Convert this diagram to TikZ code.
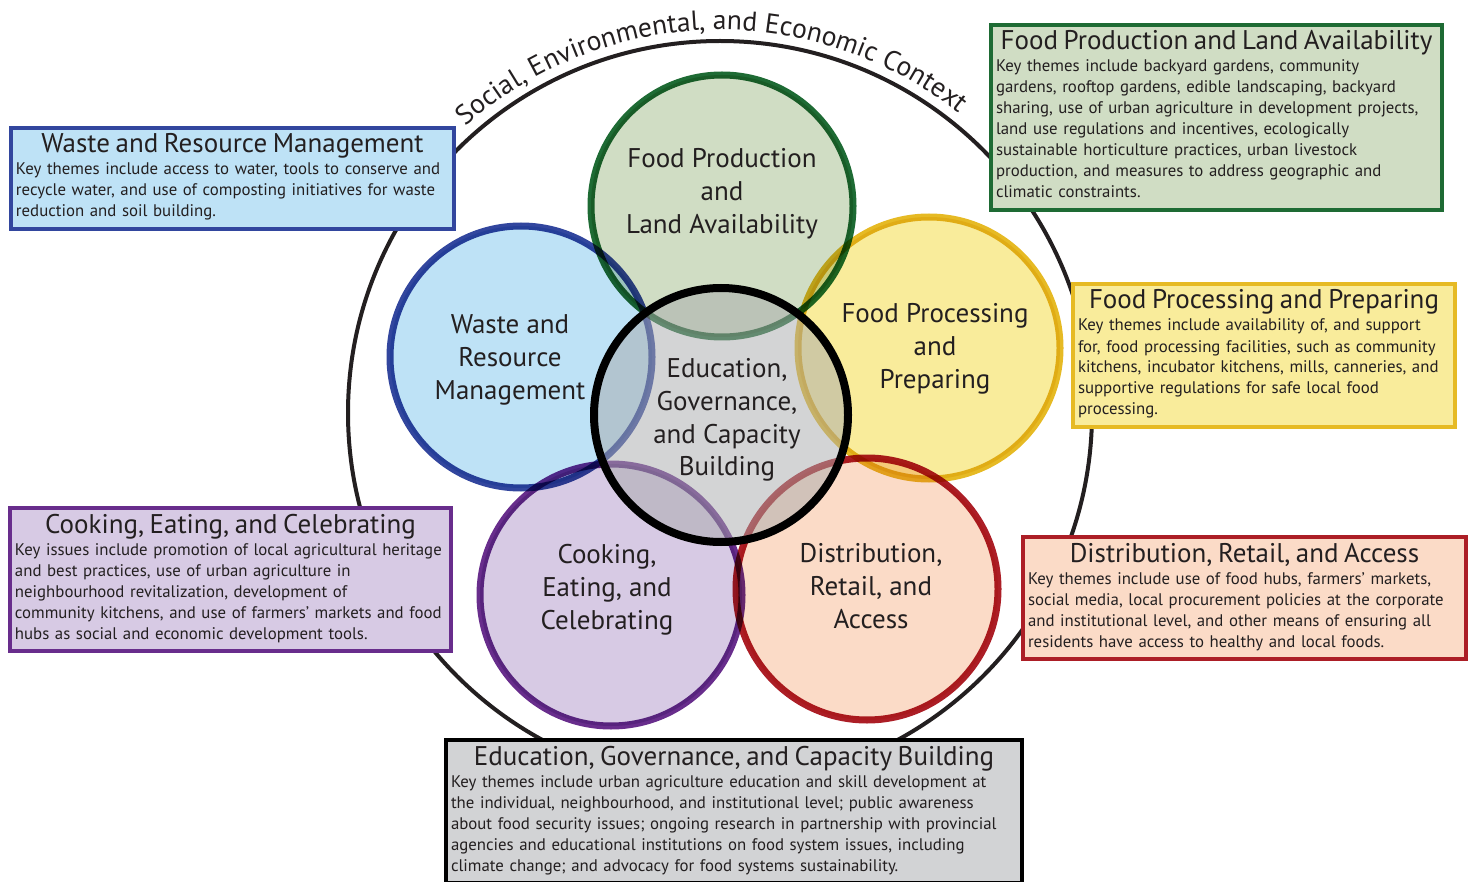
\documentclass[tikz,border=0pt]{standalone}
\usepackage{fontspec}
\setmainfont{PT Sans}
\usepackage{xcolor}
\usetikzlibrary{positioning,decorations.text}

\definecolor{prodline}{RGB}{30,107,52}
\definecolor{prodfill}{RGB}{208,221,196}
\definecolor{wasteline}{RGB}{50,70,158}
\definecolor{wastefill}{RGB}{190,226,246}
\definecolor{procline}{RGB}{230,186,36}
\definecolor{procfill}{RGB}{249,236,155}
\definecolor{distline}{RGB}{172,30,38}
\definecolor{distfill}{RGB}{251,219,199}
\definecolor{cookline}{RGB}{104,45,140}
\definecolor{cookfill}{RGB}{215,202,228}
\definecolor{edufill}{RGB}{210,211,213}
\definecolor{edushade}{RGB}{168,170,172}
\definecolor{inkgray}{RGB}{35,31,32}

\newcommand{\boxhead}[1]{{\centering\fontsize{13.5}{15}\selectfont\rule{0pt}{10pt}#1\par}\vspace{0.5pt}}
\newcommand{\boxend}{\rule[-3.5pt]{0pt}{0pt}}

\begin{document}
\begin{tikzpicture}[
      x=0.5pt,y=0.5pt,
      topic/.style={
         circle,
         line width=3.5pt,
         minimum size=131pt,
         inner sep=0pt},
      topiclabel/.style={
         align=center,
         text=inkgray,
         font=\fontsize{13.5}{16.4}\selectfont},
      infobox/.style={
         rectangle,
         anchor=north west,
         line width=2pt,
         inner xsep=2.5pt,
         inner ysep=2.5pt,
         align=left,
         text=inkgray,
         font=\fontsize{8.4}{10.5}\selectfont}
      ]
\useasboundingbox (0,0) rectangle (1468,-882);

% context ring
\draw[line width=2pt, inkgray] (720,-413) circle[radius=372];
\path[decorate, decoration={text along path, text align=center, text color=inkgray,
      text={|\fontsize{13.8}{14}\selectfont|Social, Environmental, and Economic Context}}]
   (720,-413) ++(161.5:383) arc[start angle=161.5, end angle=21.5, radius=383];

% topic circles
\begin{scope}[blend mode=multiply]
\node[topic, draw=wasteline, fill=wastefill] (wasteCircle) at (521,-357) {};
\node[topic, draw=prodline,  fill=prodfill ] (prodCircle)  at (722,-206) {};
\node[topic, draw=procline,  fill=procfill ] (procCircle)  at (929,-348) {};
\node[topic, draw=distline,  fill=distfill ] (distCircle)  at (867,-589) {};
\node[topic, draw=cookline,  fill=cookfill ] (cookCircle)  at (611,-595) {};
\end{scope}
\node[topic, minimum size=127pt, line width=4pt, draw=black,
      fill=edushade, fill opacity=0.5] (eduCircle) at (721,-415) {};

\node[topiclabel] (prodLabel)  at (722,-194) {Food Production\\and\\Land Availability};
\node[topiclabel] (wasteLabel) at (510,-360) {Waste and\\Resource\\Management};
\node[topiclabel] (procLabel)  at (935,-349) {Food Processing\\and\\Preparing};
\node[topiclabel] (eduLabel)   at (727,-420) {Education,\\Governance,\\and Capacity\\Building};
\node[topiclabel] (cookLabel)  at (607,-590) {Cooking,\\Eating, and\\Celebrating};
\node[topiclabel] (distLabel)  at (871,-586) {Distribution,\\Retail, and\\Access};

% theme boxes
\node[infobox, draw=wasteline, fill=wastefill, text width=216.5pt] (wasteBox) at (9,-126)
   {\boxhead{Waste and Resource Management}%
    Key themes include access to water, tools to conserve and\\
    recycle water, and use of composting initiatives for waste\\
    reduction and soil building.\boxend};
\node[infobox, draw=prodline, fill=prodfill, text width=220.5pt] (prodBox) at (989,-23)
   {\boxhead{Food Production and Land Availability}%
    Key themes include backyard gardens, community\\
    gardens, rooftop gardens, edible landscaping, backyard\\
    sharing, use of urban agriculture in development projects,\\
    land use regulations and incentives, ecologically\\
    sustainable horticulture practices, urban livestock\\
    production, and measures to address geographic and\\
    climatic constraints.\boxend};
\node[infobox, draw=procline, fill=procfill, text width=186pt] (procBox) at (1071,-282)
   {\boxhead{Food Processing and Preparing}%
    Key themes include availability of, and support\\
    for, food processing facilities, such as community\\
    kitchens, incubator kitchens, mills, canneries, and\\
    supportive regulations for safe local food\\
    processing.\boxend};
\node[infobox, draw=distline, fill=distfill, text width=216.5pt] (distBox) at (1021,-535)
   {\boxhead{Distribution, Retail, and Access}%
    Key themes include use of food hubs, farmers’ markets,\\
    social media, local procurement policies at the corporate\\
    and institutional level, and other means of ensuring all\\
    residents have access to healthy and local foods.\boxend};
\node[infobox, draw=cookline, fill=cookfill, text width=215.5pt] (cookBox) at (8,-506)
   {\boxhead{Cooking, Eating, and Celebrating}%
    Key issues include promotion of local agricultural heritage\\
    and best practices, use of urban agriculture in\\
    neighbourhood revitalization, development of\\
    community kitchens, and use of farmers’ markets and food\\
    hubs as social and economic development tools.\boxend};
\node[infobox, draw=black, fill=edufill, text width=283pt] (eduBox) at (444,-738)
   {\boxhead{Education, Governance, and Capacity Building}%
    Key themes include urban agriculture education and skill development at\\
    the individual, neighbourhood, and institutional level; public awareness\\
    about food security issues; ongoing research in partnership with provincial\\
    agencies and educational institutions on food system issues, including\\
    climate change; and advocacy for food systems sustainability.\boxend};

\end{tikzpicture}
\end{document}
